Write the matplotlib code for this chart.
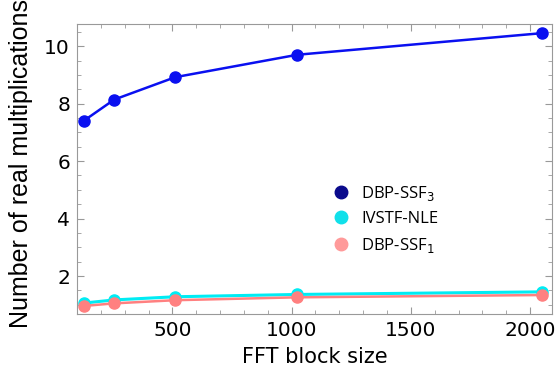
import matplotlib
matplotlib.use("Agg")
import matplotlib.pyplot as plt
from matplotlib.ticker import MultipleLocator

# data
block_sizes = [128, 256, 512, 1024, 2048]
dbp_ssf3 = [7.40, 8.14, 8.92, 9.70, 10.45]
ivstf_nle = [1.06, 1.17, 1.28, 1.36, 1.45]
dbp_ssf1 = [0.96, 1.05, 1.16, 1.26, 1.34]

x_ticks = [500, 1000, 1500, 2000]
y_ticks = [2, 4, 6, 8, 10]

plt.rcParams['font.family'] = ['DejaVu Sans']

fig = plt.figure(figsize=(5.6, 3.78), dpi=100)
ax = fig.add_axes([77 / 560, 1 - 314 / 378, (552 - 77) / 560, (314 - 24) / 378])

# lines (as drawn in plot)
ax.plot(block_sizes, ivstf_nle, color='#00ecf4', lw=2.2, marker='o', ms=8, zorder=2)
ax.plot(block_sizes, dbp_ssf1, color='#ff8080', lw=1.8, marker='o', ms=8, zorder=3)
ax.plot(block_sizes, dbp_ssf3, color='#0a10f0', lw=1.8, marker='o', ms=8, zorder=4)

ax.set_xlim(100, 2092)
ax.set_ylim(0.68, 10.77)
ax.set_xticks(x_ticks)
ax.set_yticks(y_ticks)
ax.xaxis.set_minor_locator(MultipleLocator(100))
ax.yaxis.set_minor_locator(MultipleLocator(0.5))
ax.tick_params(which='both', direction='in', top=True, right=True, color='#999999')
ax.tick_params(which='major', length=5, labelsize=14.5, pad=5)
ax.tick_params(which='minor', length=3)
for sp in ax.spines.values():
    sp.set_color('#999999')

ax.set_xlabel('FFT block size', fontsize=15, labelpad=5)

fig.text(21 / 560, 1 - 328 / 378, 'Number of real multiplications', rotation=90,
         ha='center', va='bottom', fontsize=18, family='Liberation Sans')

# legend: markers only, separate colours
leg_names = ['DBP-SSF$_3$', 'IVSTF-NLE', 'DBP-SSF$_1$']
leg_colors = ['#0a0a8c', '#10e0ea', '#ff9a9a']
handles = [plt.Line2D([], [], ls='none', marker='o', ms=9, color=c) for c in leg_colors]
ax.legend(handles, leg_names, loc='upper left', bbox_to_anchor=(0.49, 0.50),
          frameon=False, handletextpad=0.2, labelspacing=0.5,
          prop={'family': ['Open Sans', 'DejaVu Sans'], 'size': 12})

fig.savefig('out.png', dpi=100)
